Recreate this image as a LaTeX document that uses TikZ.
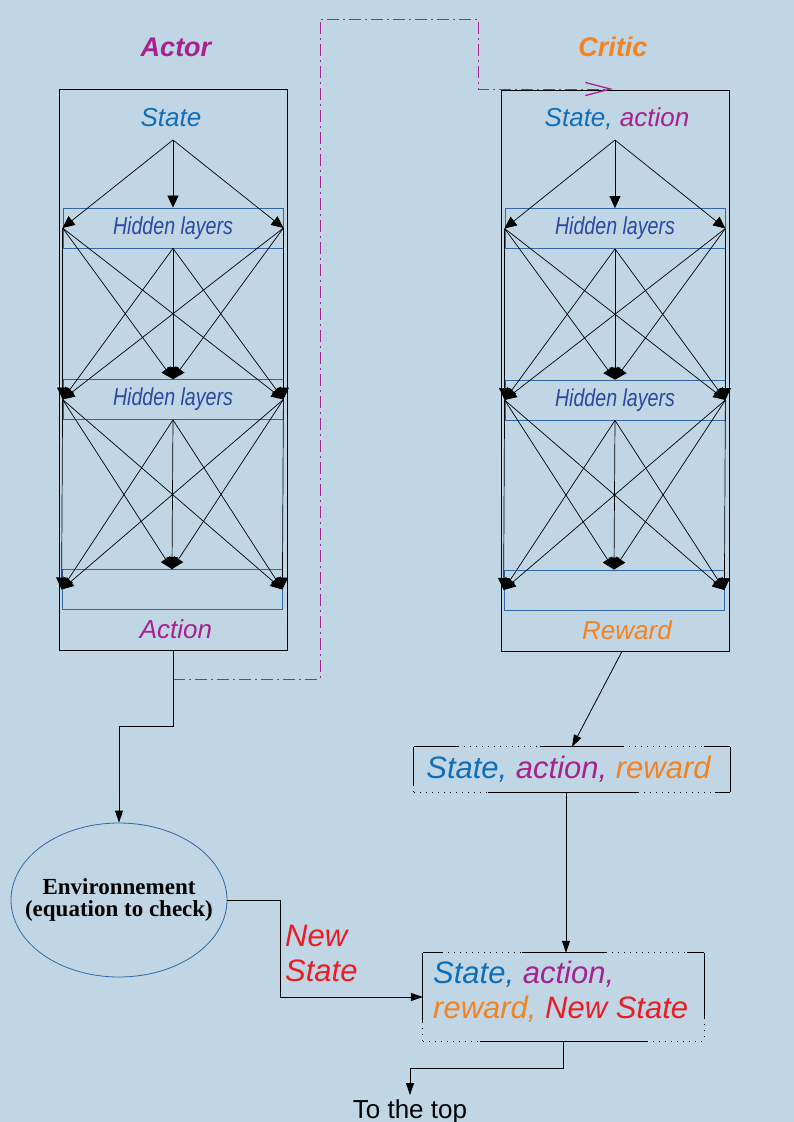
\documentclass[tikz,border=0pt]{standalone}
\usepackage{fontspec}
\setmainfont{Liberation Sans}
\newfontfamily\envfont{Liberation Serif}
\newfontfamily\narrowfont[FakeStretch=0.8]{Liberation Sans}
\usepackage{xcolor}
\usetikzlibrary{arrows.meta,positioning,calc,shapes.geometric}

\definecolor{bgblue}{RGB}{192,214,229}
\definecolor{stateblue}{RGB}{16,110,184}
\definecolor{actpurple}{RGB}{166,34,142}
\definecolor{rwdorange}{RGB}{245,130,32}
\definecolor{newred}{RGB}{237,28,36}
\definecolor{hidblue}{RGB}{44,72,160}
\definecolor{layerline}{RGB}{52,101,164}

\begin{document}
\begin{tikzpicture}[
    x=1pt, y=1pt,
    netbox/.style={
        draw, rectangle,
        line width=0.8pt,
        minimum width=228pt,
        minimum height=561pt,
        inner sep=0pt
    },
    layer/.style={
        draw=layerline, rectangle,
        line width=0.8pt,
        minimum width=220pt,
        minimum height=40pt,
        inner sep=0pt,
        text=hidblue,
        font=\narrowfont\itshape\fontsize{24.5}{28}\selectfont
    },
    headtitle/.style={font=\bfseries\itshape\fontsize{27}{32}\selectfont},
    iotext/.style={font=\itshape\fontsize{26}{30}\selectfont, inner sep=0pt},
    bigtext/.style={font=\itshape\fontsize{31}{35}\selectfont, align=left, inner sep=0pt},
    net/.style={-{Triangle[length=12pt,width=11pt]}, line width=0.7pt},
    flow/.style={-{Triangle[length=12pt,width=8pt]}, line width=0.8pt},
    link/.style={actpurple, line width=0.9pt,
        dash pattern=on 12pt off 4pt on 2pt off 4pt},
    edge/.style={line width=0.8pt},
    dotedge/.style={line width=0.8pt, dash pattern=on 1pt off 5pt}
]

%% ── Page and background ───────────────────────────────
\useasboundingbox (0,0) rectangle (794,-1122);
\fill[bgblue] (0,0) rectangle (794,-1122);

%% ── Actor network ─────────────────────────────────────
\node[headtitle, text=actpurple] (actortitle) at (176,-47) {Actor};
\node[netbox] (actor) at (173,-370) {};
\node[iotext, text=stateblue] (astate) at (171,-118) {State};
\coordinate (ain) at (173,-140);
\node[layer] (a1) at (173,-228) {Hidden layers};
\node[layer] (a2) at (173,-399.5) {Hidden layers};
\node[layer] (a3) at (172,-589.5) {};
\node[iotext, text=actpurple] (aaction) at (176,-629) {Action};

\foreach \t in {west,north,east}
    \draw[net] (ain) -- (a1.\t);
\foreach \s in {west,south,east}{
    \foreach \t in {west,north,east}{
        \draw[net] (a1.\s) -- (a2.\t);
        \draw[net] (a2.\s) -- (a3.\t);
    }
}

%% ── Critic network ────────────────────────────────────
\node[headtitle, text=rwdorange] (critictitle) at (613,-47) {Critic};
\node[netbox] (critic) at (615,-370.5) {};
\node[iotext] (cstate) at (617,-119)
    {\textcolor{stateblue}{State,} \textcolor{actpurple}{action}};
\coordinate (cin) at (615,-140);
\node[layer] (c1) at (615,-228.5) {Hidden layers};
\node[layer] (c2) at (615,-400) {Hidden layers};
\node[layer] (c3) at (614,-590) {};
\node[iotext, text=rwdorange] (creward) at (627,-630) {Reward};

\foreach \t in {west,north,east}
    \draw[net] (cin) -- (c1.\t);
\foreach \s in {west,south,east}{
    \foreach \t in {west,north,east}{
        \draw[net] (c1.\s) -- (c2.\t);
        \draw[net] (c2.\s) -- (c3.\t);
    }
}

%% ── Action fed to the critic (dash-dot) ───────────────
\coordinate (lk0) at (173,-679);
\coordinate (lk1) at (320,-679);
\coordinate (lk2) at (320,-19);
\coordinate (lk3) at (478,-19);
\coordinate (lk4) at (478,-89);
\coordinate (lk5) at (613,-89);
\draw[link, -{Straight Barb[length=25pt,width=13pt,line width=1.3pt]}]
    (lk0) -- (lk1) -- (lk2) -- (lk3) -- (lk4) -- (lk5);

%% ── Environment ───────────────────────────────────────
\node[draw=layerline, ellipse, line width=0.8pt,
      minimum width=216pt, minimum height=154pt,
      inner xsep=-18pt, inner ysep=0pt,
      align=center, font=\envfont\bfseries\fontsize{23}{21.5}\selectfont]
    (env) at (119,-900) {Environnement\\(equation to check)};
\draw[flow] (actor.south) -- ++(0,-75) -| (env.north);

%% ── Memory boxes ──────────────────────────────────────
\node[bigtext, minimum width=316pt, minimum height=45pt] (sar) at (572,-769.5)
    {\hspace*{-7pt}\textcolor{stateblue}{State,} \textcolor{actpurple}{action,}
     \textcolor{rwdorange}{reward}};
\node[minimum width=281pt, minimum height=88pt, inner sep=0pt]
    (sarn) at (563.5,-997) {};
\node[bigtext, anchor=north west] (sarntext) at (433,-961)
    {\textcolor{stateblue}{State,} \textcolor{actpurple}{action,}\\
     \textcolor{rwdorange}{reward,} \textcolor{newred}{New State}};

% broken borders of the two boxes
\foreach \a/\b/\st in {0/44/edge, 44/126/dotedge, 126/209/edge,
                       209/290/dotedge, 290/316/edge}
    \draw[\st] ($(sar.north west)+(\a,0)$) -- ($(sar.north west)+(\b,0)$);
\foreach \a/\b/\st in {0/74/dotedge, 74/224/edge, 224/301/dotedge,
                       301/316/edge}
    \draw[\st] ($(sar.south west)+(\a,0)$) -- ($(sar.south west)+(\b,0)$);
\draw[edge] (sar.north east) -- (sar.south east);
\draw[edge] (sar.north west) -- ++(0,-38);
\draw[dotedge] ($(sar.north west)+(0,-38)$) -- (sar.south west);

\foreach \a/\b/\st in {0/19/edge, 19/99/dotedge, 99/183/edge,
                       183/264/dotedge, 264/281/edge}
    \draw[\st] ($(sarn.north west)+(\a,0)$) -- ($(sarn.north west)+(\b,0)$);
\foreach \a/\b/\st in {0/57/dotedge, 57/224/edge, 224/281/dotedge}
    \draw[\st] ($(sarn.south west)+(\a,0)$) -- ($(sarn.south west)+(\b,0)$);
\draw[edge] (sarn.north west) -- ++(0,-69);
\draw[dotedge] ($(sarn.north west)+(0,-69)$) -- (sarn.south west);
\draw[edge] (sarn.north east) -- ++(0,-65);
\draw[dotedge] ($(sarn.north east)+(0,-65)$) -- (sarn.south east);

%% ── Connectors between boxes ──────────────────────────
\coordinate (cout) at ($(critic.south)+(7,0)$);
\draw[flow] (cout) -- (sar.north);
\coordinate (sarout) at ($(sar.south)+(-6,0)$);
\draw[flow] (sarout) -- (sarout |- sarn.north);

\draw[flow] (env.east) -- ++(53,0) |- (sarn.west);
\node[bigtext, text=newred, anchor=west] (newstate) at (285,-953)
    {New\\State};

%% ── Back to the top ───────────────────────────────────
\node[font=\fontsize{26}{30}\selectfont, inner sep=4pt, anchor=north]
    (totop) at (410,-1095) {To the top};
\draw[flow] (sarn.south) -- ++(0,-27) -| (totop.north);

\end{tikzpicture}
\end{document}
